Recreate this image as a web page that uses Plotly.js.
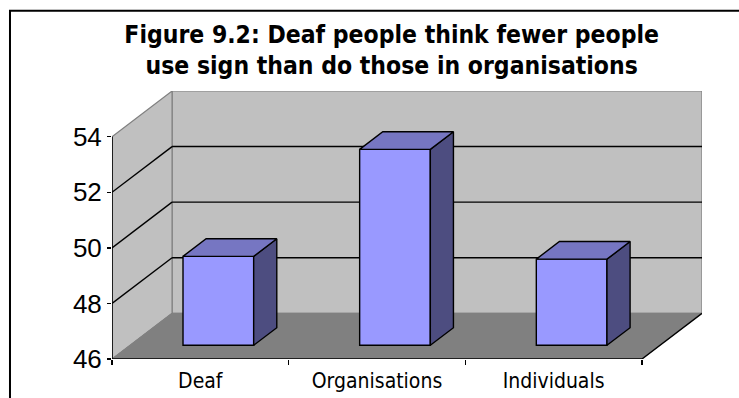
<!DOCTYPE html>
<html>
<head>
<meta charset="utf-8">
<script src="https://cdn.plot.ly/plotly-3.0.1.min.js"></script>
<style>html,body{margin:0;padding:0;background:#fff;}#chart{width:739px;height:398px;}</style>
</head>
<body>
<div id="chart"></div>
<script>
// ---- data ----
var categories = ['Deaf', 'Organisations', 'Individuals'];
var values = [49.2, 53.05, 49.1];
var yTickVals = [46, 48, 50, 52, 54];
var yTickText = ['46', '48', '50', '52', '54'];
var titleText = 'Figure 9.2: Deaf people think fewer people<br>use sign than do those in organisations';

// ---- pseudo-3D geometry (styling, in axis units) ----
var Y0 = 46, YTOP = 54;
var DX = 0.34, DY = 1.645;   // full depth offset of the box
var F = 0.3, G = 0.385, W = 0.4; // bar front depth, bar depth, bar width
var N = categories.length;

var centers = categories.map(function (c, i) { return i + 0.5; });

// front faces as a real bar trace
var frontX = centers.map(function (c) { return c + F * DX; });
var frontBase = values.map(function () { return Y0 + F * DY; });
var frontLen = values.map(function (v) { return v - Y0; });

var sideX = [], sideY = [], topX = [], topY = [];
values.forEach(function (v, i) {
  var xl = centers[i] - W / 2, xr = centers[i] + W / 2;
  var fx = F * DX, fy = F * DY, bx = (F + G) * DX, by = (F + G) * DY;
  sideX.push(xr + fx, xr + bx, xr + bx, xr + fx, xr + fx, null);
  sideY.push(Y0 + fy, Y0 + by, v + by, v + fy, Y0 + fy, null);
  topX.push(xl + fx, xr + fx, xr + bx, xl + bx, xl + fx, null);
  topY.push(v + fy, v + fy, v + by, v + by, v + fy, null);
});

var traces = [
  {type: 'bar', x: frontX, y: frontLen, base: frontBase, width: W,
   marker: {color: '#9999FF', line: {color: '#000000', width: 1.4}},
   hoverinfo: 'skip', showlegend: false},
  {type: 'scatter', mode: 'lines', x: sideX, y: sideY, fill: 'toself',
   fillcolor: '#4D4D80', line: {color: '#000000', width: 1.4},
   hoverinfo: 'skip', showlegend: false},
  {type: 'scatter', mode: 'lines', x: topX, y: topY, fill: 'toself',
   fillcolor: '#7676C2', line: {color: '#000000', width: 1.4},
   hoverinfo: 'skip', showlegend: false}
];

// walls, floor, gridlines
var shapes = [];
// outer chart border
shapes.push({type: 'rect', xref: 'paper', yref: 'paper', x0: -0.1729, x1: 1.3, y0: -0.3, y1: 1.299, line: {color: '#000', width: 2}, fillcolor: 'rgba(0,0,0,0)', layer: 'below'});
// back wall
shapes.push({type: 'rect', xref: 'x', yref: 'y', x0: DX, x1: N + DX, y0: Y0 + DY, y1: YTOP + DY,
  fillcolor: '#C0C0C0', line: {color: '#808080', width: 1.2}, layer: 'below'});
// left wall
shapes.push({type: 'path', xref: 'x', yref: 'y',
  path: 'M0,' + Y0 + ' L' + DX + ',' + (Y0 + DY) + ' L' + DX + ',' + (YTOP + DY) + ' L0,' + YTOP + ' Z',
  fillcolor: '#C0C0C0', line: {color: '#808080', width: 1.2}, layer: 'below'});
// floor
shapes.push({type: 'path', xref: 'x', yref: 'y',
  path: 'M0,' + Y0 + ' L' + N + ',' + Y0 + ' L' + (N + DX) + ',' + (Y0 + DY) + ' L' + DX + ',' + (Y0 + DY) + ' Z',
  fillcolor: '#808080', line: {color: '#808080', width: 1}, layer: 'below'});
// gridlines
yTickVals.forEach(function (v) {
  if (v === Y0 || v === YTOP) return;
  shapes.push({type: 'line', xref: 'x', yref: 'y', x0: DX, x1: N + DX, y0: v + DY, y1: v + DY, line: {color: '#000', width: 1.4}, layer: 'below'});
  shapes.push({type: 'line', xref: 'x', yref: 'y', x0: 0, x1: DX, y0: v, y1: v + DY, line: {color: '#000', width: 1.4}, layer: 'below'});
});
// floor right edge
shapes.push({type: 'line', xref: 'x', yref: 'y', x0: N, x1: N + DX, y0: Y0, y1: Y0 + DY, line: {color: '#000', width: 1.4}, layer: 'below'});
// front axes
shapes.push({type: 'line', xref: 'x', yref: 'y', x0: 0, x1: N, y0: Y0, y1: Y0, line: {color: '#000', width: 1.6}, layer: 'below'});
shapes.push({type: 'line', xref: 'x', yref: 'y', x0: 0, x1: 0, y0: Y0, y1: YTOP, line: {color: '#000', width: 1.6}, layer: 'below'});

var layout = {
  width: 739, height: 398,
  margin: {l: 112, r: 37, t: 91, b: 39, pad: 0},
  paper_bgcolor: '#ffffff', plot_bgcolor: 'rgba(0,0,0,0)',
  showlegend: false,
  title: {text: titleText, xref: 'container', yref: 'container', x: 0.53, xanchor: 'center', y: 0.893, yanchor: 'middle',
    font: {family: 'DejaVu Sans Condensed, DejaVu Sans, sans-serif', size: 24.5, color: '#000', weight: 'bold'}},
  xaxis: {range: [0, N + DX], showgrid: false, zeroline: false, showline: false,
    tickmode: 'array', tickvals: centers, ticktext: categories, ticks: '',
    ticklabelstandoff: 7,
    tickfont: {family: 'DejaVu Sans Condensed, DejaVu Sans, sans-serif', size: 21, color: '#000'},
    minor: {tickmode: 'array', tickvals: [0, 1, 2, 3], ticks: 'outside', ticklen: 5, tickwidth: 1.5, tickcolor: '#000', showgrid: false},
    fixedrange: true},
  yaxis: {range: [Y0, YTOP + DY], showgrid: false, zeroline: false, showline: false,
    tickmode: 'array', tickvals: yTickVals, ticktext: yTickText,
    ticks: 'outside', ticklen: 4, tickwidth: 1.5, tickcolor: '#000',
    tickfont: {family: 'Liberation Sans, Arial, sans-serif', size: 26, color: '#000'},
    fixedrange: true},
  shapes: shapes,
  bargap: 0
};

Plotly.newPlot('chart', traces, layout, {displayModeBar: false, staticPlot: true});
</script>
</body>
</html>
